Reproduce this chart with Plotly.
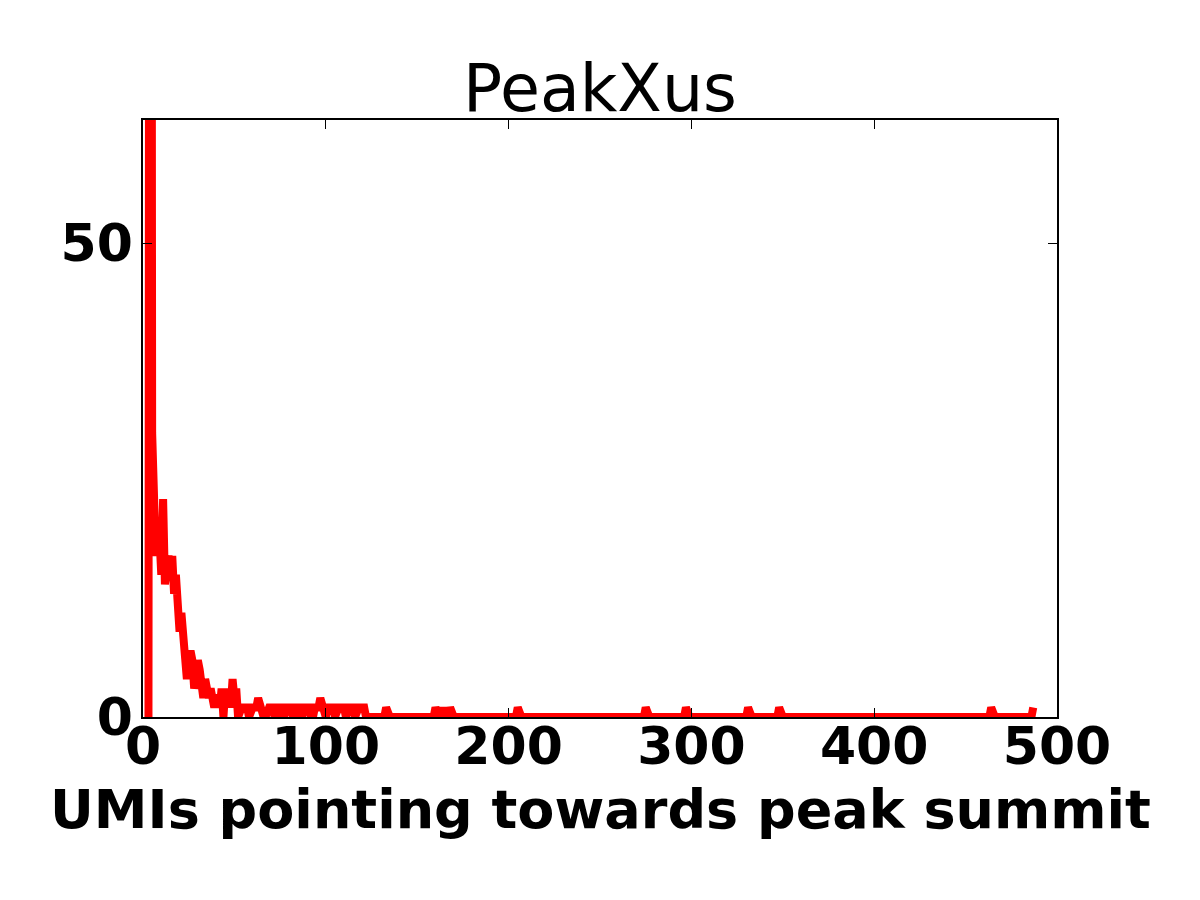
import plotly.graph_objects as go

# ---- data ----
# UMI count bins (dense part) and number of peaks in each bin
dense_umis = list(range(3, 122))
dense_counts = [
    0, 250, 30, 18, 17, 20, 19, 15, 23, 14,      # 3-12
    15, 17, 16, 17, 13, 15, 12, 9, 11, 9,        # 13-22
    5, 4, 6, 7, 6, 3, 4, 6, 5, 3,                # 23-32
    2, 4, 3, 2, 3, 2, 1, 2, 2, 1,                # 33-42
    3, 0, 3, 1, 3, 1, 4, 2, 3, 0,                # 43-52
    1, 1, 1, 1, 1, 0, 1, 1, 1, 1,                # 53-62
    2, 1, 1, 0, 0, 1, 1, 1, 1, 0,                # 63-72
    0, 1, 1, 1, 0, 1, 1, 1, 1, 0,                # 73-82
    0, 1, 1, 1, 0, 1, 1, 1, 1, 0,                # 83-92
    0, 1, 1, 1, 2, 1, 1, 0, 1, 1,                # 93-102
    1, 1, 0, 1, 1, 1, 1, 1, 0, 1,                # 103-112
    1, 1, 1, 0, 1, 1, 1, 1, 1,                   # 113-121
]
# sparse tail: bins (122..487) that hold a single peak; all others hold none
tail_last_bin = 487
tail_single_bins = [133, 160, 164, 168, 205, 275, 297, 331, 348, 464, 487]

x_ticks = [0, 100, 200, 300, 400, 500]
y_ticks = [0, 50]
title_text = "PeakXus"
x_label = "UMIs pointing towards peak summit"

# ---- assemble the histogram series ----
umis = list(dense_umis)
counts = list(dense_counts)
for b in range(122, tail_last_bin + 1):
    umis.append(b)
    counts.append(1 if b in tail_single_bins else 0)

FONT = "DejaVu Sans"

fig = go.Figure()
fig.add_trace(go.Scatter(
    x=umis, y=counts, mode="lines",
    line=dict(color="#ff0000", width=8),
    hoverinfo="skip", showlegend=False,
))

axis_common = dict(
    showline=True, linecolor="black", linewidth=1.5, mirror="ticks",
    ticks="inside", ticklen=9, tickwidth=1, tickcolor="black",
    showgrid=False, zeroline=False,
    tickfont=dict(family=FONT, size=52, color="black", weight="bold"),
)

fig.update_layout(
    width=1200, height=900,
    margin=dict(l=135, r=151, t=112, b=191),
    paper_bgcolor="white", plot_bgcolor="white",
    title=dict(text=title_text, x=(135 + 1049) / 2 / 1200, xanchor="center",
               y=1 - 80 / 900, yref="container", yanchor="middle",
               font=dict(family=FONT, size=65, color="black")),
    xaxis=dict(range=[0, 500], tickvals=x_ticks, ticklabelstandoff=-17,
               ticktext=[str(v) for v in x_ticks], **axis_common),
    yaxis=dict(range=[0, 63], tickvals=y_ticks, ticklabelstandoff=-2,
               ticktext=[str(v) for v in y_ticks], **axis_common),
    annotations=[dict(
        text=x_label, xref="paper", yref="paper", x=0.5, y=-0.155,
        xanchor="center", yanchor="middle", showarrow=False,
        font=dict(family=FONT, size=54, color="black", weight="bold"),
    )],
)

fig.write_html("out.html")
